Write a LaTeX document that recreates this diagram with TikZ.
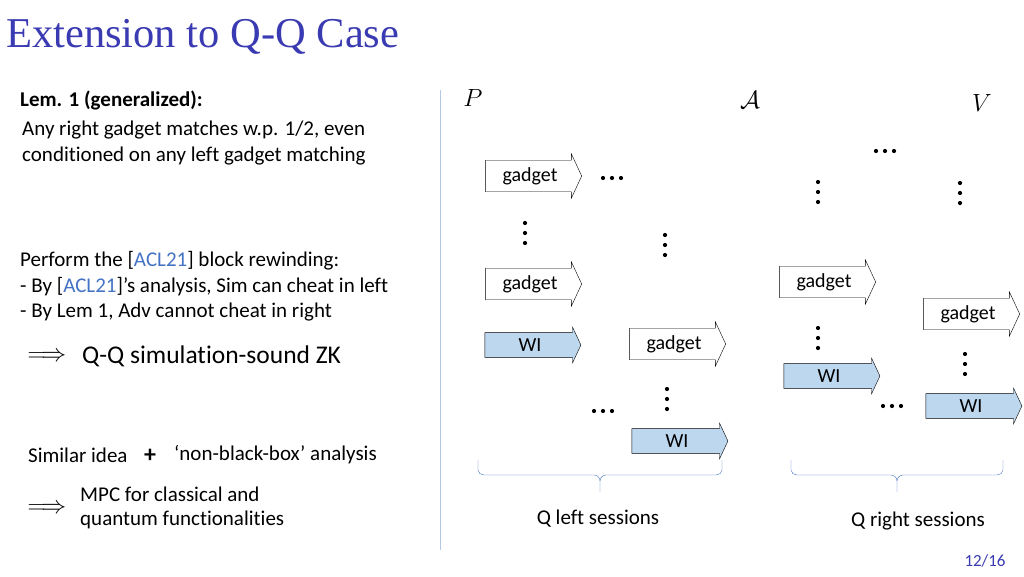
\documentclass[tikz,border=0pt]{standalone}
\usepackage{fontspec}
\setmainfont{Carlito}[Ligatures={NoCommon}]
\newfontfamily\serifF{Liberation Serif}
\usetikzlibrary{shapes.arrows,decorations.pathreplacing}
\definecolor{titleblue}{RGB}{58,58,178}
\definecolor{wiblue}{RGB}{189,215,238}
\definecolor{citeblue}{RGB}{68,114,196}
\begin{document}
\begin{tikzpicture}[x=1pt,y=-1pt,
  txt/.style={anchor=west,inner sep=0,font=\fontsize{21}{24}\selectfont},
  box/.style={single arrow,draw,thin,single arrow head extend=3.5pt,single arrow tip angle=130,
     minimum height=96pt,minimum width=44pt,inner sep=0,font=\fontsize{20}{22}\selectfont,text width=75pt,align=center},
  gad/.style={box,fill=white},
  wi/.style={box,fill=wiblue,minimum width=36pt,single arrow head extend=3pt},
  br/.style={draw=citeblue,thin}]
\useasboundingbox (0,0) rectangle (1024,576);
\node[anchor=west,inner sep=0,text=titleblue,font=\serifF\fontsize{42.5}{42}\selectfont] (title) at (6,37) {Extension to Q-Q Case};
\node[txt,font=\bfseries\fontsize{21}{24}\selectfont] (lem) at (20,100) {Lem. 1 (generalized):};
\node[txt] (l1) at (22,130) {Any right gadget matches w.p. 1/2, even};
\node[txt] (l2) at (22,156) {conditioned on any left gadget matching};
\node[txt] (p1) at (20,261) {Perform the [\textcolor{citeblue}{ACL21}] block rewinding:};
\node[txt] (p2) at (20,287) {- By [\textcolor{citeblue}{ACL21}]’s analysis, Sim can cheat in left};
\node[txt] (p3) at (20,312) {- By Lem 1, Adv cannot cheat in right};
\node[inner sep=0,font=\fontsize{26}{26}\selectfont] (imp1) at (47,357) {$\Longrightarrow$};
\node[txt,font=\fontsize{25.5}{28}\selectfont] (qq) at (82,356) {Q-Q simulation-sound ZK};
\node[txt] (sim) at (28,455) {Similar idea};
\node[inner sep=0,font=\bfseries\fontsize{24}{24}\selectfont] (plus) at (150,456) {+};
\node[txt] (nbb) at (174,455) {‘non-black-box’ analysis};
\node[inner sep=0,font=\fontsize{26}{26}\selectfont] (imp2) at (47,509) {$\Longrightarrow$};
\node[txt] (m1) at (80,494) {MPC for classical and};
\node[txt] (m2) at (80,520) {quantum functionalities};
\draw[draw=citeblue!40,line width=1pt] (440,90) -- (440,550);
\node[inner sep=0,font=\fontsize{42}{42}\selectfont] (P) at (473,98) {$P$};
\node[inner sep=0,font=\fontsize{42}{42}\selectfont] (A) at (750,100) {$\mathcal{A}$};
\node[inner sep=0,font=\fontsize{42}{42}\selectfont] (V) at (982,103) {$V$};
\node[gad] (g1) at (530,176) {gadget};
\node[gad] (g2) at (530,284) {gadget};
\node[wi] (w1) at (530,345) {WI};
\node[gad] (g3) at (674,344) {gadget};
\node[wi] (w2) at (677,441) {WI};
\node[gad] (g4) at (824,282) {gadget};
\node[gad] (g5) at (968,314) {gadget};
\node[wi] (w3) at (829,376) {WI};
\node[wi] (w4) at (971,406) {WI};
\foreach \n/\x/\y in {h1/612/178,h2/885/151,h3/603/411,h4/892/406}{
  \coordinate (\n) at (\x,\y);
  \foreach \d in {-9,0,9} \fill ([xshift=\d pt]\n) circle (2.1pt);}
\foreach \n/\x/\y in {v1/525/233,v2/665/245,v3/818/192,v4/960/193,v5/818/338,v6/965/364,v7/667/399}{
  \coordinate (\n) at (\x,\y);
  \foreach \d in {-10,0,10} \fill ([yshift=\d pt]\n) circle (2.1pt);}
\draw[br] (478,460) -- (478,470) to[out=-90,in=180] (484,475) -- (594,475) to[out=0,in=90] (600,481) -- (600,492);
\draw[br] (722,460) -- (722,470) to[out=-90,in=0] (716,475) -- (606,475) to[out=180,in=90] (600,481);
\draw[br] (791,460) -- (791,470) to[out=-90,in=180] (797,475) -- (891,475) to[out=0,in=90] (897,481) -- (897,492);
\draw[br] (1003,460) -- (1003,470) to[out=-90,in=0] (997,475) -- (903,475) to[out=180,in=90] (897,481);
\node[inner sep=0,font=\fontsize{21}{24}\selectfont] (ql) at (598,519) {Q left sessions};
\node[inner sep=0,font=\fontsize{21}{24}\selectfont] (qr) at (918,521) {Q right sessions};
\node[inner sep=0,text=titleblue,font=\fontsize{17}{18}\selectfont] (pg) at (985,561) {12/16};
\end{tikzpicture}
\end{document}
